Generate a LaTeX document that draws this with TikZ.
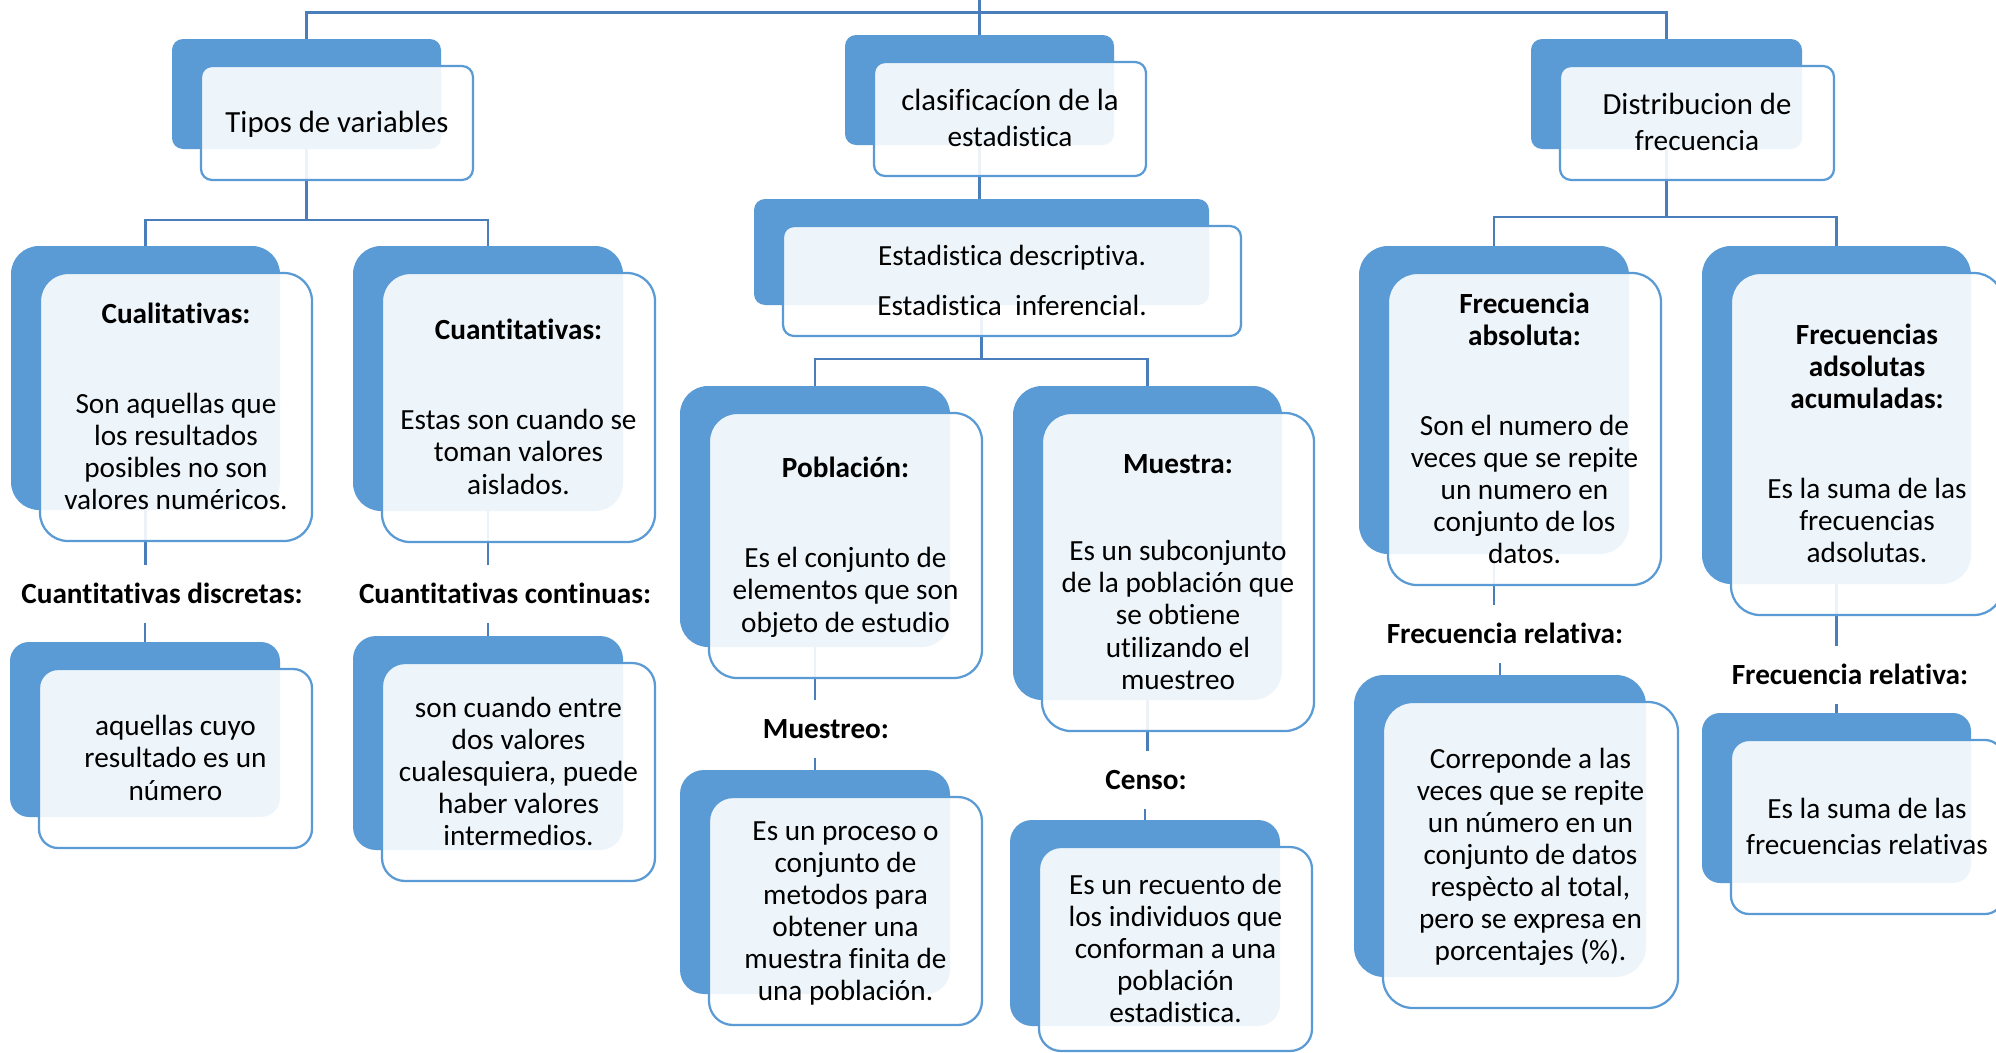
\documentclass[tikz,border=0pt]{standalone}
\usepackage{fontspec}
\setmainfont{Carlito}[Ligatures={NoCommon}]
\usetikzlibrary{backgrounds}
\definecolor{boxblue}{HTML}{5B9BD5}
\definecolor{lineblue}{HTML}{4A7EBB}
\newcommand\bodyfont{\fontsize{11.7}{12.85}\selectfont}
\newcommand\topfont{\fontsize{12.3}{13.6}\selectfont}
\newcommand\st{\rule[-3pt]{0pt}{13.5pt}}
\tikzset{
  shadowbox/.style={rectangle, fill=boxblue, draw=none, inner sep=0pt, outer sep=0pt},
  frontbox/.style={rectangle, fill=white, fill opacity=0.9, text opacity=1, draw=boxblue, draw opacity=1,
    line width=0.9pt, inner sep=0pt, outer sep=0pt, align=center, font=\bodyfont, text=black},
  conn/.style={draw=lineblue, line width=1pt},
  lab/.style={inner sep=0pt, outer sep=0pt, font=\bodyfont\bfseries, text height=10.5pt, text depth=3pt,
    minimum height=23.2pt, text=black},
}
\newcommand\boxpair[8]{%
  \pgfmathsetlengthmacro\rr{#6*0.4pt}%
  \pgfmathsetlengthmacro\sw{(#4-#2)*0.4pt}%
  \pgfmathsetlengthmacro\sh{(#5-#3)*0.4pt}%
  \pgfmathsetlengthmacro\fw{(#4-#2+3)*0.4pt}%
  \pgfmathsetlengthmacro\fh{(#5-#3+#8)*0.4pt}%
  \pgfmathsetmacro\scx{(#2+#4)/2}%
  \pgfmathsetmacro\scy{(#3+#5)/2}%
  \pgfmathsetmacro\fcx{#2+29+(#4-#2+3)/2}%
  \pgfmathsetmacro\fcy{#3+27+(#5-#3+#8)/2}%
  \node[shadowbox, rounded corners=\rr, minimum width=\sw, minimum height=\sh] (#1S) at (\scx,\scy) {};
  \node[frontbox, rounded corners=\rr, minimum width=\fw, minimum height=\fh] (#1F) at (\fcx,\fcy) {#7};
}
\begin{document}
\begin{tikzpicture}[x=0.4pt, y=-0.4pt]
\useasboundingbox (0,0) rectangle (1996,1053);
\begin{pgfonlayer}{background}
  \fill[white] (0,0) rectangle (1996,1053);
\end{pgfonlayer}
\clip (0,0) rectangle (1996,1053);

% top row
\boxpair{tipos}{172}{39}{441}{149}{11}{\topfont\st Tipos de variables\st}{4}
\boxpair{clasif}{845}{35}{1114}{145}{11}{\topfont\st clasificacíon de la\\estadistica\st}{4}
\boxpair{dist}{1531}{39}{1802}{149}{11}{\topfont\st Distribucion de\\frecuencia\st}{4}

% second row
\boxpair{estad}{754}{199}{1209}{305}{11}{\st Estadistica descriptiva.\\[5.2pt]Estadistica\ \ inferencial.\st}{4}
\boxpair{cuali}{11}{246}{280}{510}{28}{\st\textbf{Cualitativas:}\\[23.2pt]Son aquellas que\\los resultados\\posibles no son\\valores numéricos.\st}{4}
\boxpair{cuanti}{353}{246}{623}{511}{28}{\st\textbf{Cuantitativas:}\\[23.2pt]Estas son cuando se\\toman valores\\aislados.\st}{4}
\boxpair{freqabs}{1359}{246}{1629}{554}{29}{\st\textbf{Frecuencia}\\\textbf{absoluta:}\\[23.2pt]Son el numero de\\veces que se repite\\un numero en\\conjunto de los\\datos.\st}{4}
\boxpair{freqacum}{1702}{246}{1971}{584}{29}{\st\textbf{Frecuencias}\\\textbf{adsolutas}\\\textbf{acumuladas:}\\[23.2pt]Es la suma de las\\frecuencias\\adsolutas.\st}{4}
\boxpair{pobl}{680}{386}{950}{647}{28}{\st\textbf{Población:}\\[23.2pt]Es el conjunto de\\elementos que son\\objeto de estudio\st}{4}
\boxpair{muestra}{1013}{386}{1282}{700}{29}{\st\textbf{Muestra:}\\[22pt]Es un subconjunto\\de la población que\\se obtiene\\utilizando el\\muestreo\st}{4}

% third row
\boxpair{disc}{10}{642}{280}{817}{19}{\st aquellas cuyo\\resultado es un\\número\st}{4}
\boxpair{cont}{353}{636}{623}{850}{23}{\st son cuando entre\\dos valores\\cualesquiera, puede\\haber valores\\intermedios.\st}{4}
\boxpair{muestreo}{680}{770}{950}{994}{24}{\st Es un proceso o\\conjunto de\\metodos para\\obtener una\\muestra finita de\\una población.\st}{4}
\boxpair{censo}{1010}{820}{1280}{1026}{22}{\st Es un recuento de\\los individuos que\\conforman a una\\población\\estadistica.\st}{-2}
\boxpair{freqrel}{1354}{675}{1646}{977}{30}{\st Correponde a las\\veces que se repite\\un número en un\\conjunto de datos\\respècto al total,\\pero se expresa en\\porcentajes (\%).\st}{4}
\boxpair{freqrelb}{1702}{713}{1971}{883}{18}{\st Es la suma de las\\frecuencias relativas\st}{4}

% labels
\node[lab] (lab1) at (162,594) {Cuantitativas discretas:};
\node[lab] (lab2) at (505,594) {Cuantitativas continuas:};
\node[lab] (lab3) at (826,729) {Muestreo:};
\node[lab] (lab4) at (1146,780) {Censo:};
\node[lab] (lab5) at (1505,634) {Frecuencia relativa:};
\node[lab] (lab6) at (1850,675) {Frecuencia relativa:};

% connectors
\coordinate (topend) at (979.5,0);
\coordinate (bus0) at (0,12.5);
\coordinate (bus1) at (0,220);
\coordinate (bus2) at (0,359);
\coordinate (bus3) at (0,217);
\begin{pgfonlayer}{background}
  \draw[conn] (topend) -- (clasifS.north);
  \draw[conn] (tiposS.north) -- (tiposS.north |- bus0) -- (distS.north |- bus0) -- (distS.north);
  \draw[conn] (tiposS.south) -- (tiposS.south |- bus1);
  \draw[conn] (cualiS.north) -- (cualiS.north |- bus1) -- (cuantiS.north |- bus1) -- (cuantiS.north);
  \draw[conn] (clasifS.south) -- (clasifS.south |- estadS.north);
  \draw[conn] (estadS.south) -- (estadS.south |- bus2);
  \draw[conn] (poblS.north) -- (poblS.north |- bus2) -- (muestraS.north |- bus2) -- (muestraS.north);
  \draw[conn] (distS.south) -- (distS.south |- bus3);
  \draw[conn] (freqabsS.north) -- (freqabsS.north |- bus3) -- (freqacumS.north |- bus3) -- (freqacumS.north);
  \draw[conn] (cualiS.south) -- (cualiS.south |- lab1.north);
  \draw[conn] (discS.north |- lab1.south) -- (discS.north);
  \draw[conn] (cuantiS.south) -- (cuantiS.south |- lab2.north);
  \draw[conn] (contS.north |- lab2.south) -- (contS.north);
  \draw[conn] (poblS.south) -- (poblS.south |- lab3.north);
  \draw[conn] (muestreoS.north |- lab3.south) -- (muestreoS.north);
  \draw[conn] (muestraS.south) -- (muestraS.south |- lab4.north);
  \draw[conn] (censoS.north |- lab4.south) -- (censoS.north);
  \draw[conn] (freqabsS.south) -- (freqabsS.south |- lab5.north);
  \draw[conn] (freqrelS.north |- lab5.south) -- (freqrelS.north);
  \draw[conn] (freqacumS.south) -- (freqacumS.south |- lab6.north);
  \draw[conn] (freqrelbS.north |- lab6.south) -- (freqrelbS.north);
\end{pgfonlayer}
\end{tikzpicture}
\end{document}
